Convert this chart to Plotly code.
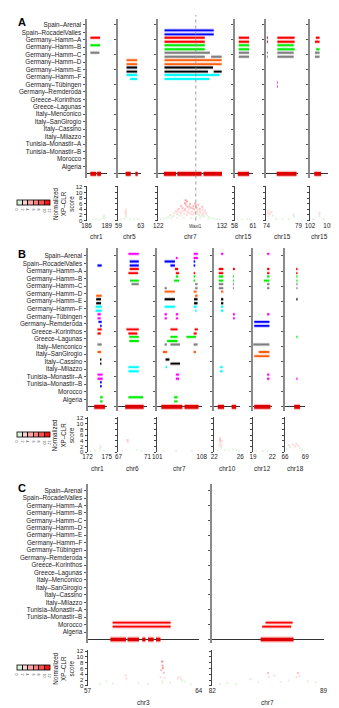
import plotly.graph_objects as go

# ---------------- data ----------------
POPS = ["Spain–Arenal", "Spain–RocadelValles", "Germany–Hamm–A", "Germany–Hamm–B",
        "Germany–Hamm–C", "Germany–Hamm–D", "Germany–Hamm–E", "Germany–Hamm–F",
        "Germany–Tübingen", "Germany–Remderoda", "Greece–Korinthos", "Greece–Lagunas",
        "Italy–Menconico", "Italy–SanGirogio", "Italy–Cassino", "Italy–Milazzo",
        "Tunisia–Monastir–A", "Tunisia–Monastir–B", "Morocco", "Algeria"]
POP_COLORS = ["#ff00ff", "#0000ff", "#ff0000", "#00ee00", "#808080", "#ff6010", "#000000", "#00ffff",
              "#ff00ff", "#0000ff", "#ff0000", "#00ee00", "#808080", "#ff6010", "#000000", "#00ffff",
              "#ff00ff", "#0000ff", "#ff0000", "#00ee00"]

# Panel A regions
A_CHROMS = ["chr1", "chr5", "chr7", "chr15", "chr15", "chr15"]
A_STARTS = [186, 59, 122, 58, 74, 102]
A_ENDS = [189, 63, 132, 61, 79, 105]
# segments: (population, replicate 0=upper 1=lower 2=both, start Mb, end Mb)
A_SEGS = [
    [("Germany–Hamm–A", 0, 186.57, 188.0), ("Germany–Hamm–B", 0, 186.57, 188.0),
     ("Germany–Hamm–C", 0, 186.57, 187.9)],
    [("Germany–Hamm–D", 2, 60.45, 62.36), ("Germany–Hamm–E", 2, 60.45, 62.36),
     ("Germany–Hamm–F", 0, 60.45, 62.36), ("Germany–Hamm–F", 1, 61.09, 62.36)],
    [("Spain–RocadelValles", 2, 123.0, 130.7), ("Germany–Hamm–A", 2, 123.0, 129.3),
     ("Germany–Hamm–B", 2, 123.0, 129.3), ("Germany–Hamm–C", 0, 123.0, 130.1),
     ("Germany–Hamm–C", 1, 123.0, 129.3), ("Germany–Hamm–C", 1, 130.3, 131.95),
     ("Germany–Hamm–D", 2, 123.0, 131.95), ("Germany–Hamm–E", 0, 123.0, 130.6),
     ("Germany–Hamm–E", 1, 123.0, 129.8), ("Germany–Hamm–E", 1, 130.7, 131.95),
     ("Germany–Hamm–F", 0, 123.0, 131.6), ("Germany–Hamm–F", 1, 123.0, 130.0)],
    [("Germany–Hamm–A", 2, 58.68, 60.37), ("Germany–Hamm–B", 2, 58.68, 60.37),
     ("Germany–Hamm–C", 2, 58.68, 60.37)],
    [("Germany–Hamm–A", 2, 74.05, 74.22), ("Germany–Hamm–A", 2, 75.7, 78.4),
     ("Germany–Hamm–B", 0, 75.7, 78.25), ("Germany–Hamm–B", 1, 75.7, 78.4),
     ("Germany–Hamm–C", 2, 74.05, 74.2), ("Germany–Hamm–C", 2, 75.7, 78.25),
     ("Germany–Tübingen", 2, 75.68, 75.8)],
    [("Germany–Hamm–A", 0, 102.95, 103.55), ("Germany–Hamm–A", 1, 102.8, 103.55),
     ("Germany–Hamm–B", 1, 103.0, 103.55), ("Germany–Hamm–C", 2, 102.8, 103.55)],
]
A_BLOCKS = [
    [(186.57, 187.43), (187.57, 188.14)],
    [(60.3, 61.2), (62.05, 62.45)],
    [(122.9, 124.8), (125.0, 128.8), (129.1, 132.0)],
    [(58.52, 60.37)],
    [(75.6, 78.7)],
    [(102.7, 103.8)],
]
A_XP_POS = [
    [186.4, 186.9, 187.4, 187.9, 188.4, 188.55, 188.6, 188.6, 188.7],
    [59.5, 60.1, 60.3, 60.3, 60.35, 60.32, 60.3, 61.0, 61.8, 62.5],
    [123.6, 123.9, 124.2, 124.5, 124.8, 125.0, 125.2, 125.4, 125.6, 125.8, 126.0, 126.2, 126.3,
     126.4, 126.5, 126.6, 126.8, 127.0, 127.1, 127.3, 127.5, 127.6, 127.8, 127.9, 128.0, 128.2,
     128.3, 128.5, 128.7, 128.9, 129.1, 129.3, 129.5, 129.7, 130.0,
     125.6, 126.3, 126.5, 127.0, 127.8, 128.3, 128.9, 124.4, 124.9, 125.3, 125.7, 126.1,
     126.7, 126.9, 127.2, 127.4, 127.7, 128.1, 128.4, 128.6, 128.8, 129.0, 129.2, 129.4,
     125.1, 125.5, 126.2, 126.6, 127.5, 128.0, 128.5, 129.0,
     122.4, 122.9, 123.3, 130.4, 130.8, 131.2, 131.6, 124.0, 125.0, 126.0, 127.2, 128.6, 129.9],
    [58.5, 59.2, 60.0, 60.6],
    [74.2, 74.3, 74.5, 74.8, 75.0, 74.3, 74.6, 78.2, 78.3, 75.5, 76.5, 77.5],
    [103.5, 103.55, 103.5, 102.5, 104.2],
]
A_XP_SCORE = [
    [0.3, 0.2, 0.4, 0.3, 0.8, 1.4, 1.8, 1.1, 0.9],
    [0.3, 0.6, 2.2, 3.1, 3.8, 1.5, 2.7, 0.4, 0.3, 0.5],
    [1.2, 2.0, 1.5, 2.6, 3.4, 2.2, 4.1, 3.0, 5.2, 4.4, 3.6, 6.1, 7.2,
     5.5, 6.8, 4.8, 3.9, 5.9, 4.5, 3.2, 5.1, 4.0, 6.0, 5.4, 4.6, 3.8,
     5.6, 4.2, 3.5, 4.9, 2.9, 3.7, 2.4, 1.8, 1.2,
     2.5, 3.5, 2.0, 2.8, 3.0, 2.2, 2.0, 1.6, 2.9, 1.9, 3.3, 2.4,
     2.7, 5.0, 2.3, 4.3, 2.6, 3.1, 1.9, 2.7, 1.6, 2.2, 1.5, 3.0,
     3.6, 1.7, 4.0, 3.1, 2.1, 1.4, 3.3, 3.9,
     0.5, 0.7, 0.9, 0.8, 0.6, 0.5, 0.4, 0.8, 0.9, 1.0, 0.9, 1.0, 0.7],
    [0.4, 0.3, 0.5, 0.4],
    [2.6, 3.5, 2.2, 3.0, 1.8, 1.5, 2.8, 2.0, 1.4, 0.5, 0.4, 0.6],
    [2.2, 2.8, 1.6, 0.4, 0.5],
]
GENE_NAME = "Waxi1"
GENE_POS = 127.9

# Panel B regions
B_CHROMS = ["chr1", "chr6", "chr7", "chr10", "chr12", "chr18"]
B_STARTS = [172, 67, 101, 22, 19, 66]
B_ENDS = [175, 71, 108, 26, 22, 69]
B_SEGS = [
    [("Spain–RocadelValles", 1, 173.55, 174.2), ("Germany–Hamm–D", 1, 173.35, 174.2),
     ("Germany–Hamm–E", 2, 173.35, 174.1), ("Germany–Hamm–F", 2, 173.25, 174.2),
     ("Germany–Tübingen", 2, 173.55, 174.05), ("Germany–Remderoda", 0, 173.7, 174.2),
     ("Germany–Remderoda", 1, 173.95, 174.2), ("Greece–Korinthos", 0, 173.55, 174.2),
     ("Greece–Korinthos", 1, 173.55, 174.05), ("Italy–Menconico", 0, 173.55, 174.2),
     ("Italy–SanGirogio", 0, 173.55, 174.1), ("Italy–Cassino", 2, 173.95, 174.15),
     ("Tunisia–Monastir–A", 2, 173.55, 174.35), ("Tunisia–Monastir–B", 2, 173.95, 174.2),
     ("Algeria", 2, 173.95, 174.35)],
    [("Spain–Arenal", 0, 68.37, 69.8), ("Spain–RocadelValles", 2, 68.55, 69.8),
     ("Germany–Hamm–A", 0, 68.55, 69.8), ("Germany–Hamm–A", 1, 68.37, 69.7),
     ("Germany–Hamm–B", 1, 68.6, 69.8), ("Germany–Hamm–C", 0, 68.8, 69.8),
     ("Greece–Korinthos", 0, 68.1, 69.8), ("Greece–Korinthos", 1, 68.37, 69.6),
     ("Greece–Lagunas", 2, 68.5, 69.8), ("Italy–Milazzo", 2, 68.37, 69.8),
     ("Algeria", 0, 68.37, 70.4)],
    [("Spain–Arenal", 1, 103.94, 104.2), ("Spain–Arenal", 2, 106.74, 107.4),
     ("Spain–RocadelValles", 0, 102.17, 103.79), ("Spain–RocadelValles", 1, 103.09, 103.79),
     ("Spain–RocadelValles", 2, 106.74, 106.98),
     ("Germany–Hamm–A", 0, 103.79, 104.3), ("Germany–Hamm–A", 1, 103.94, 104.45),
     ("Germany–Hamm–A", 1, 106.74, 106.98),
     ("Germany–Hamm–B", 0, 103.94, 104.3), ("Germany–Hamm–B", 1, 103.68, 104.45),
     ("Germany–Hamm–B", 2, 106.74, 106.98),
     ("Germany–Hamm–C", 1, 102.17, 102.52), ("Germany–Hamm–C", 2, 106.98, 107.35),
     ("Germany–Hamm–D", 0, 102.17, 103.79), ("Germany–Hamm–D", 0, 106.74, 107.2),
     ("Germany–Hamm–D", 1, 106.98, 107.35),
     ("Germany–Hamm–E", 0, 102.17, 103.79), ("Germany–Hamm–E", 2, 106.8, 107.35),
     ("Germany–Hamm–F", 0, 102.17, 103.79), ("Germany–Hamm–F", 0, 106.74, 107.2),
     ("Germany–Hamm–F", 1, 106.98, 107.2),
     ("Germany–Tübingen", 2, 102.17, 102.52), ("Germany–Tübingen", 2, 103.94, 104.3),
     ("Greece–Korinthos", 0, 103.09, 104.2), ("Greece–Korinthos", 0, 106.9, 107.4),
     ("Greece–Korinthos", 1, 106.74, 107.2),
     ("Greece–Lagunas", 0, 103.09, 104.2), ("Greece–Lagunas", 0, 105.6, 107.1),
     ("Greece–Lagunas", 1, 102.57, 104.2),
     ("Italy–Menconico", 0, 102.17, 102.52), ("Italy–Menconico", 0, 103.09, 104.6),
     ("Italy–Menconico", 0, 106.74, 107.35),
     ("Italy–SanGirogio", 0, 101.9, 102.57), ("Italy–SanGirogio", 0, 106.74, 107.1),
     ("Italy–Cassino", 0, 102.32, 102.93), ("Italy–Cassino", 1, 103.09, 104.6),
     ("Italy–Milazzo", 0, 102.32, 102.57),
     ("Tunisia–Monastir–A", 2, 103.94, 104.45), ("Algeria", 2, 103.68, 104.2)],
    [("Spain–Arenal", 0, 23.04, 23.38), ("Germany–Hamm–A", 2, 22.69, 23.38),
     ("Germany–Hamm–A", 0, 24.86, 25.15), ("Germany–Hamm–B", 2, 22.69, 23.38),
     ("Germany–Hamm–B", 2, 24.86, 25.0), ("Germany–Hamm–C", 2, 22.69, 23.38),
     ("Germany–Hamm–C", 2, 24.86, 25.0), ("Germany–Hamm–D", 0, 23.04, 23.38),
     ("Germany–Hamm–E", 2, 23.04, 23.38), ("Germany–Hamm–F", 2, 23.04, 23.38),
     ("Germany–Tübingen", 2, 24.86, 25.15), ("Italy–Milazzo", 2, 22.9, 23.28)],
    [("Spain–Arenal", 0, 21.2, 21.55), ("Germany–Hamm–A", 2, 21.2, 21.55),
     ("Germany–Hamm–B", 0, 21.2, 21.55), ("Germany–Hamm–B", 1, 20.7, 21.55),
     ("Germany–Hamm–C", 2, 21.2, 21.55), ("Germany–Tübingen", 0, 21.2, 21.55),
     ("Germany–Remderoda", 2, 19.2, 21.55), ("Italy–Menconico", 0, 19.05, 21.55),
     ("Italy–SanGirogio", 0, 19.9, 21.55), ("Italy–SanGirogio", 1, 19.2, 21.55),
     ("Tunisia–Monastir–A", 2, 21.2, 21.55)],
    [("Germany–Hamm–A", 2, 67.67, 67.86), ("Germany–Hamm–B", 2, 67.7, 67.86),
     ("Germany–Hamm–C", 2, 67.7, 67.86), ("Germany–Hamm–E", 0, 67.7, 67.86),
     ("Greece–Lagunas", 0, 67.7, 67.86), ("Tunisia–Monastir–A", 1, 67.7, 67.86)],
]
B_BLOCKS = [
    [(173.05, 174.7)],
    [(67.93, 70.47)],
    [(101.66, 104.96), (105.3, 107.5)],
    [(22.54, 23.5), (24.67, 25.36)],
    [(19.2, 21.7)],
    [(67.38, 68.24)],
]
B_XP_POS = [
    [172.5, 173.2, 173.95, 174.0, 174.05, 174.6],
    [68.25, 68.3, 67.5, 69.5, 70.2],
    [102.0, 104.0, 106.5],
    [22.8, 22.85, 22.9, 22.95, 23.0, 23.1, 23.2, 22.9, 23.05, 22.5, 23.6, 24.2, 24.8, 25.4, 25.8],
    [19.5, 20.5, 21.3],
    [66.3, 66.6, 66.8, 67.2, 67.5, 67.7, 67.9, 68.2, 68.6],
]
B_XP_SCORE = [
    [0.3, 0.4, 1.0, 1.6, 2.0, 0.5],
    [4.2, 3.5, 0.3, 0.8, 0.5],
    [0.3, 0.4, 0.3],
    [2.5, 3.6, 4.8, 4.2, 3.0, 2.2, 3.9, 1.8, 1.4, 0.6, 0.8, 0.7, 0.9, 0.7, 0.5],
    [0.3, 0.4, 0.3],
    [1.0, 2.4, 1.8, 2.6, 2.0, 2.9, 2.3, 1.5, 0.8],
]

# Panel C regions
C_CHROMS = ["chr3", "chr7"]
C_STARTS = [57, 82]
C_ENDS = [64, 89]
C_SEGS = [
    [("Morocco", 2, 58.58, 62.23)],
    [("Morocco", 0, 85.35, 87.05), ("Morocco", 1, 85.14, 86.96)],
]
C_BLOCKS = [
    [(58.44, 59.42), (59.52, 60.24), (60.44, 60.65), (60.81, 61.16), (61.31, 61.59)],
    [(85.04, 87.11)],
]
C_XP_POS = [
    [57.8, 58.2, 58.6, 59.4, 59.45, 60.2, 60.8, 61.6, 61.65, 61.7, 61.72, 61.75, 61.8, 61.85,
     61.68, 61.74, 62.2, 62.7, 62.8, 62.9, 62.95, 63.1, 63.5],
    [82.5, 82.95, 83.5, 84.4, 84.9, 85.5, 85.55, 85.9, 86.3, 86.8, 87.3, 87.4, 87.5, 88.0, 88.5],
]
C_XP_SCORE = [
    [0.5, 1.6, 0.8, 3.6, 2.5, 0.9, 0.7, 3.0, 5.5, 8.4, 7.0, 6.2, 4.5, 2.8,
     1.8, 1.2, 1.1, 2.6, 3.1, 2.3, 1.8, 1.5, 0.6],
    [0.6, 1.0, 0.5, 2.3, 1.2, 4.4, 3.2, 3.6, 1.4, 1.9, 3.0, 4.4, 3.3, 1.6, 1.2],
]
SCALE_TICKS = [0, 2, 4, 6, 8, 10, 12]
XP_TICKS = [0, 2, 4, 6, 8, 10, 12]

# ---------------- layout helpers ----------------
W, H = 339, 708
FONT = "Liberation Sans, Arial, sans-serif"


def xd(a, b):
    return [a / W, b / W]


def yd(top, bottom):
    return [1 - bottom / H, 1 - top / H]


def fy(p):
    return 1 - p / H


PANELS = [
    dict(letter="A", letter_y=12, chroms=A_CHROMS, starts=A_STARTS, ends=A_ENDS, segs=A_SEGS,
         blocks=A_BLOCKS, xp_pos=A_XP_POS, xp_score=A_XP_SCORE,
         xpx=[(76, 97), (109, 132), (150, 216), (229, 248), (262, 295), (307, 326)],
         pop_px=(9, 168.75), pop_range=[-0.5, 20.8], xp_px=(176.9, 212),
         chr_y=228, cbar_y=191.5, ylab_y=195),
    dict(letter="B", letter_y=245.5, chroms=B_CHROMS, starts=B_STARTS, ends=B_ENDS, segs=B_SEGS,
         blocks=B_BLOCKS, xp_pos=B_XP_POS, xp_score=B_XP_SCORE,
         xpx=[(77, 97), (109, 139), (149, 195), (208, 235), (248, 268), (281, 302)],
         pop_px=(240.1, 403.5), pop_range=[-0.5, 21.0], xp_px=(409.9, 445.3),
         chr_y=462, cbar_y=425, ylab_y=428),
    dict(letter="C", letter_y=481.5, chroms=C_CHROMS, starts=C_STARTS, ends=C_ENDS, segs=C_SEGS,
         blocks=C_BLOCKS, xp_pos=C_XP_POS, xp_score=C_XP_SCORE,
         xpx=[(77, 192), (206, 321)],
         pop_px=(477.25, 637.75), pop_range=[-0.5, 20.9], xp_px=(644.5, 680.7),
         chr_y=697, cbar_y=660, ylab_y=663),
]

COLORSCALE = [[0, "#d8f2d8"], [1 / 6, "#d8f2d8"], [1 / 6, "#ffd0d0"], [2 / 6, "#ffd0d0"],
              [2 / 6, "#ffa8a8"], [3 / 6, "#ffa8a8"], [3 / 6, "#ff8080"], [4 / 6, "#ff8080"],
              [4 / 6, "#ff5050"], [5 / 6, "#ff5050"], [5 / 6, "#ff1010"], [1, "#ff1010"]]
REP_OFF = 0.27

fig = go.Figure()
layout = dict(width=W, height=H, margin=dict(l=0, r=0, t=0, b=0), showlegend=False,
              paper_bgcolor="white", plot_bgcolor="white", hovermode=False,
              font=dict(family=FONT, size=6.3, color="#222"))
annotations = []
shapes = []
n = 0


def names(k):
    if k == 1:
        return "x", "y", "xaxis", "yaxis"
    return f"x{k}", f"y{k}", f"xaxis{k}", f"yaxis{k}"


def add_segments(segs, xn, yn):
    by_color = {}
    for pop, rep, s, e in segs:
        i = POPS.index(pop)
        yc = 20 - i
        if rep == 2:
            ys = [yc + REP_OFF, yc - REP_OFF]
        elif rep == 0:
            ys = [yc + REP_OFF]
        else:
            ys = [yc - REP_OFF]
        c = POP_COLORS[i]
        d = by_color.setdefault(c, ([], []))
        for y in ys:
            d[0].extend([s, e, None])
            d[1].extend([y, y, None])
    for c, (xs, ys) in by_color.items():
        fig.add_trace(go.Scatter(x=xs, y=ys, xaxis=xn, yaxis=yn, mode="lines",
                                 line=dict(color=c, width=3.6), opacity=0.22, hoverinfo="skip"))
        fig.add_trace(go.Scatter(x=xs, y=ys, xaxis=xn, yaxis=yn, mode="lines",
                                 line=dict(color=c, width=1.9), hoverinfo="skip"))


def add_blocks(blocks, xn, yn):
    xs, ys = [], []
    for s, e in blocks:
        xs.extend([s, e, None])
        ys.extend([0, 0, None])
    fig.add_trace(go.Scatter(x=xs, y=ys, xaxis=xn, yaxis=yn, mode="lines",
                             line=dict(color="#ff8a8a", width=6), opacity=0.6, hoverinfo="skip"))
    fig.add_trace(go.Scatter(x=xs, y=ys, xaxis=xn, yaxis=yn, mode="lines",
                             line=dict(color="#dd0000", width=3.6), hoverinfo="skip"))


for pi, P in enumerate(PANELS):
    cax = "coloraxis" if pi == 0 else f"coloraxis{pi + 1}"
    layout[cax] = dict(
        cmin=0, cmax=12, colorscale=COLORSCALE,
        colorbar=dict(orientation="h", x=4 / W, xanchor="left", y=fy(P["cbar_y"]), yanchor="top",
                      len=33, lenmode="pixels", thickness=4.5, thicknessmode="pixels",
                      outlinewidth=0.8, outlinecolor="#000", tickvals=SCALE_TICKS,
                      ticks="inside", ticklen=4.5, tickcolor="#000", tickwidth=0.6,
                      tickfont=dict(size=3.6, color="#333"), xpad=0, ypad=0, borderwidth=0))
    for ri in range(len(P["chroms"])):
        x0, x1 = P["xpx"][ri]
        rng = [P["starts"][ri], P["ends"][ri]]
        first = ri == 0
        # ---- population haplotype panel
        n += 1
        xn, yn, xk, yk = names(n)
        layout[xk] = dict(domain=xd(x0, x1), anchor=yn, range=rng, showline=False,
                          showticklabels=False, ticks="", showgrid=False, zeroline=False,
                          fixedrange=True)
        ycfg = dict(domain=yd(*P["pop_px"]), anchor=xn, range=P["pop_range"], showline=True,
                    linecolor="#8a8a8a", linewidth=2, ticks="outside", ticklen=2,
                    tickcolor="#555", tickwidth=1, showgrid=False, zeroline=True,
                    zerolinecolor="#333", zerolinewidth=1, fixedrange=True)
        if first:
            ycfg.update(tickvals=[20 - i for i in range(len(POPS))], ticktext=POPS,
                        tickfont=dict(size=6.3, color="#222", family=FONT))
        else:
            ycfg.update(tickvals=list(range(0, 21, 2)), showticklabels=False)
        layout[yk] = ycfg
        add_segments(P["segs"][ri], xn, yn)
        add_blocks(P["blocks"][ri], xn, yn)
        if pi == 0 and ri == 2:
            shapes.append(dict(type="line", xref=xn, yref="paper", x0=GENE_POS, x1=GENE_POS,
                               y0=fy(212), y1=fy(5), line=dict(color="#9a9a9a", width=1, dash="dot")))
        # ---- XP-CLR panel
        n += 1
        xn, yn, xk, yk = names(n)
        layout[xk] = dict(domain=xd(x0, x1), anchor=yn, range=rng, showline=False,
                          ticks="", tickvals=rng, ticktext=[str(v) for v in rng],
                          tickfont=dict(size=6.3, color="#222"), showgrid=False,
                          zeroline=False, fixedrange=True)
        layout[yk] = dict(domain=yd(*P["xp_px"]), anchor=xn, range=[0, 12.4], showline=True,
                          linecolor="#444", linewidth=1, ticks="outside", ticklen=2,
                          tickcolor="#444", tickvals=XP_TICKS, showticklabels=first,
                          tickfont=dict(size=6, color="#222"), showgrid=False,
                          zeroline=False, fixedrange=True)
        fig.add_trace(go.Scatter(
            x=P["xp_pos"][ri], y=P["xp_score"][ri], xaxis=xn, yaxis=yn, mode="markers",
            marker=dict(symbol="square", size=2, color=P["xp_score"][ri], coloraxis=cax,
                        line=dict(width=0)),
            opacity=0.75, hoverinfo="skip"))
        annotations.append(dict(text=P["chroms"][ri], xref="paper", yref="paper",
                                x=(x0 + x1) / 2 / W, y=fy(P["chr_y"]), showarrow=False,
                                font=dict(size=6.5, color="#222"), xanchor="center",
                                yanchor="middle"))
        if pi == 0 and ri == 2:
            annotations.append(dict(text=GENE_NAME, xref=xn, yref="paper", x=GENE_POS,
                                    y=fy(218), showarrow=False, font=dict(size=4.5, color="#333"),
                                    xanchor="center", yanchor="middle"))
    annotations.append(dict(text="<b>" + P["letter"] + "</b>", xref="paper", yref="paper",
                            x=3 / W, y=fy(P["letter_y"]), showarrow=False, xanchor="left",
                            yanchor="middle", font=dict(size=11, color="#000")))
    annotations.append(dict(text="Normalized<br>XP–CLR<br>score", xref="paper", yref="paper",
                            x=52 / W, y=fy(P["ylab_y"]), showarrow=False, textangle=-90,
                            xanchor="center", yanchor="middle",
                            font=dict(size=6.3, color="#222")))

layout["annotations"] = annotations
layout["shapes"] = shapes
fig.update_layout(**layout)
fig.write_html("out.html")
